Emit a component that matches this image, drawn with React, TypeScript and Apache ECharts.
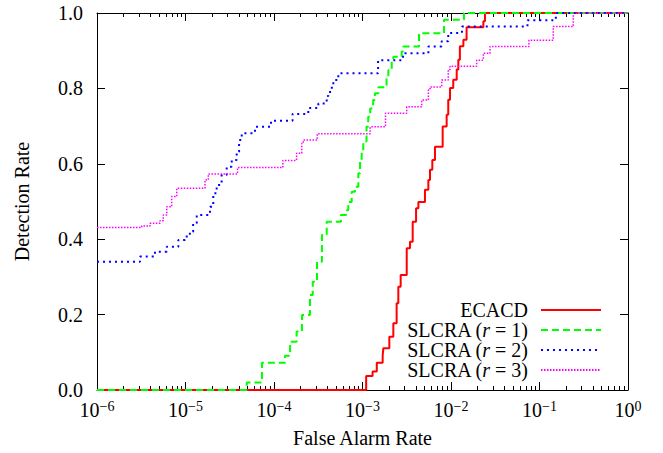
import React, { useEffect, useRef } from "react";
import * as echarts from "echarts";

const SERIES_NAMES = ["ECACD", "SLCRA (r = 1)", "SLCRA (r = 2)", "SLCRA (r = 3)"];

const ecacdFpr = [1e-6, 1.10e-3, 1.30e-3, 1.45e-3, 1.69e-3, 1.72e-3, 2.01e-3, 2.23e-3, 2.43e-3, 2.54e-3, 2.70e-3, 3.16e-3, 3.44e-3, 3.69e-3, 4.03e-3, 4.28e-3, 5.08e-3, 5.55e-3, 5.79e-3, 6.15e-3, 6.59e-3, 8.05e-3, 8.93e-3, 9.31e-3, 9.75e-3, 1.06e-2, 1.16e-2, 1.21e-2, 1.26e-2, 1.38e-2, 1.50e-2, 2.32e-2, 2.42e-2, 1];
const ecacdTpr = [0, 0.037, 0.049, 0.072, 0.091, 0.111, 0.141, 0.177, 0.230, 0.274, 0.305, 0.376, 0.393, 0.446, 0.482, 0.499, 0.531, 0.557, 0.584, 0.610, 0.645, 0.699, 0.730, 0.770, 0.801, 0.823, 0.850, 0.876, 0.912, 0.929, 0.962, 0.978, 1.0, 1.0];

const r1Fpr = [1e-6, 4.92e-5, 7.31e-5, 1.33e-4, 1.52e-4, 1.80e-4, 2.07e-4, 2.55e-4, 2.74e-4, 3.06e-4, 3.48e-4, 3.94e-4, 5.71e-4, 6.52e-4, 6.90e-4, 7.55e-4, 8.22e-4, 8.97e-4, 9.38e-4, 9.79e-4, 1.02e-3, 1.11e-3, 1.16e-3, 1.22e-3, 1.32e-3, 1.38e-3, 1.51e-3, 1.87e-3, 1.96e-3, 2.14e-3, 2.23e-3, 2.77e-3, 2.89e-3, 4.35e-3, 8.34e-3, 1.40e-2, 1];
const r1Tpr = [0, 0.020, 0.072, 0.091, 0.128, 0.155, 0.199, 0.252, 0.287, 0.340, 0.411, 0.446, 0.464, 0.477, 0.499, 0.526, 0.539, 0.575, 0.606, 0.632, 0.659, 0.698, 0.725, 0.747, 0.769, 0.787, 0.803, 0.831, 0.849, 0.871, 0.884, 0.898, 0.911, 0.946, 0.982, 1.0, 1.0];

const r2Fpr = [1e-6, 3.06e-6, 4.52e-6, 6.14e-6, 8.30e-6, 9.86e-6, 1.12e-5, 1.22e-5, 1.34e-5, 1.89e-5, 2.06e-5, 2.25e-5, 2.56e-5, 2.92e-5, 3.33e-5, 3.79e-5, 4.03e-5, 4.32e-5, 6.10e-5, 9.25e-5, 1.62e-4, 2.44e-4, 3.17e-4, 3.94e-4, 4.11e-4, 4.30e-4, 4.68e-4, 5.33e-4, 1.50e-3, 2.87e-3, 5.55e-3, 7.85e-3, 9.31e-3, 1.33e-2, 7.31e-2, 1.53e-1, 1];
const r2Tpr = [0.340, 0.354, 0.367, 0.380, 0.398, 0.407, 0.420, 0.442, 0.464, 0.486, 0.522, 0.544, 0.570, 0.592, 0.610, 0.632, 0.663, 0.681, 0.698, 0.714, 0.732, 0.748, 0.760, 0.780, 0.787, 0.802, 0.822, 0.840, 0.875, 0.893, 0.911, 0.925, 0.947, 0.964, 0.981, 1.0, 1.0];

const r3Fpr = [1e-6, 3.20e-6, 3.97e-6, 5.15e-6, 5.61e-6, 6.14e-6, 6.98e-6, 7.96e-6, 1.66e-5, 1.81e-5, 3.87e-5, 1.26e-4, 1.80e-4, 2.06e-4, 2.14e-4, 3.08e-4, 1.22e-3, 1.82e-3, 3.16e-3, 4.67e-3, 5.55e-3, 5.79e-3, 7.85e-3, 9.31e-3, 9.75e-3, 1.95e-2, 2.32e-2, 2.76e-2, 7.60e-2, 1.43e-1, 2.41e-1, 1];
const r3Tpr = [0.431, 0.435, 0.442, 0.449, 0.464, 0.486, 0.513, 0.535, 0.557, 0.573, 0.590, 0.609, 0.628, 0.654, 0.663, 0.680, 0.698, 0.734, 0.751, 0.769, 0.796, 0.804, 0.822, 0.850, 0.859, 0.875, 0.893, 0.911, 0.928, 0.964, 1.0, 1.0];

const X_MAJOR = [1e-6, 1e-5, 1e-4, 1e-3, 1e-2, 1e-1, 1];

const FONT = "Liberation Serif";

function minorValues(): number[] {
  const out: number[] = [];
  for (let e = -6; e < 0; e++) {
    for (let m = 2; m <= 9; m++) out.push(m * Math.pow(10, e));
  }
  return out;
}

function pairs(xs: number[], ys: number[]) {
  return xs.map((x, i) => [x, ys[i]]);
}

export default function App() {
  const ref = useRef<HTMLDivElement>(null);
  useEffect(() => {
    if (!ref.current) return;
    const chart = echarts.init(ref.current, undefined, { renderer: "svg" });
    const minors = minorValues();
    const baseX = {
      type: "log" as const,
      logBase: 10,
      min: 1e-6,
      max: 1,
      splitLine: { show: false },
    };
    const expLabel = (v: number) => {
      const e = Math.round(Math.log10(v));
      const s = e < 0 ? "\u2212" + -e : String(e);
      return "{b|10}{s|" + s + "}";
    };
    const option: any = {
      animation: false,
      backgroundColor: "#fff",
      textStyle: { fontFamily: FONT },
      grid: { left: 97, right: 35, top: 13, bottom: 63, containLabel: false },
      xAxis: [
        {
          ...baseX,
          position: "bottom",
          name: "False Alarm Rate",
          nameLocation: "middle",
          nameGap: 38,
          nameTextStyle: { fontFamily: FONT, fontSize: 20, color: "#000" },
          axisLine: { show: true, lineStyle: { color: "#000", width: 1 } },
          axisTick: { show: true, inside: true, length: 8, customValues: X_MAJOR, lineStyle: { color: "#000" } },
          axisLabel: {
            show: true,
            margin: 9,
            customValues: X_MAJOR,
            formatter: expLabel,
            rich: {
              b: { fontFamily: FONT, fontSize: 20, color: "#000", lineHeight: 22 },
              s: { fontFamily: FONT, fontSize: 14, color: "#000", lineHeight: 12, verticalAlign: "top" },
            },
          },
        },
        {
          ...baseX,
          position: "bottom",
          axisLine: { show: false },
          axisTick: { show: true, inside: true, length: 4, customValues: minors, lineStyle: { color: "#000" } },
          axisLabel: { show: false },
        },
        {
          ...baseX,
          position: "top",
          axisLine: { show: true, lineStyle: { color: "#000", width: 1 } },
          axisTick: { show: true, inside: true, length: 8, customValues: X_MAJOR, lineStyle: { color: "#000" } },
          axisLabel: { show: false },
        },
        {
          ...baseX,
          position: "top",
          axisLine: { show: false },
          axisTick: { show: true, inside: true, length: 4, customValues: minors, lineStyle: { color: "#000" } },
          axisLabel: { show: false },
        },
      ],
      yAxis: [
        {
          type: "value",
          position: "left",
          min: 0,
          max: 1,
          interval: 0.2,
          name: "Detection Rate",
          nameLocation: "middle",
          nameGap: 65,
          nameTextStyle: { fontFamily: FONT, fontSize: 20, color: "#000" },
          splitLine: { show: false },
          axisLine: { show: true, lineStyle: { color: "#000", width: 1 } },
          axisTick: { show: true, inside: true, length: 8, lineStyle: { color: "#000" } },
          axisLabel: {
            margin: 14,
            fontFamily: FONT,
            fontSize: 20,
            color: "#000",
            formatter: (v: number) => v.toFixed(1),
          },
        },
        {
          type: "value",
          position: "right",
          min: 0,
          max: 1,
          interval: 0.2,
          splitLine: { show: false },
          axisLine: { show: true, lineStyle: { color: "#000", width: 1 } },
          axisTick: { show: true, inside: true, length: 8, lineStyle: { color: "#000" } },
          axisLabel: { show: false },
        },
      ],
      legend: {
        orient: "vertical",
        right: 61,
        bottom: 73,
        align: "right",
        padding: 0,
        itemGap: 0,
        itemWidth: 60,
        itemHeight: 14,
        itemStyle: { opacity: 0 },
        data: SERIES_NAMES,
        formatter: (name: string) => {
          const m = name.match(/^(.*\()r( = \d\))$/);
          if (m) return "{t|" + m[1] + "}{i|r}{t|" + m[2] + "}{g|}";
          return "{t|" + name + "}{g|}";
        },
        textStyle: {
          fontFamily: FONT,
          rich: {
            t: { fontFamily: FONT, fontSize: 20, color: "#000", lineHeight: 22 },
            i: { fontFamily: FONT, fontSize: 20, fontStyle: "italic", color: "#000", lineHeight: 22 },
            g: { width: 8 },
          },
        },
      },
      series: [
        {
          name: SERIES_NAMES[0],
          type: "line",
          step: "end",
          symbol: "none",
          data: pairs(ecacdFpr, ecacdTpr),
          lineStyle: { color: "#ff0000", width: 2 },
          itemStyle: { color: "#ff0000" },
        },
        {
          name: SERIES_NAMES[1],
          type: "line",
          step: "end",
          symbol: "none",
          data: pairs(r1Fpr, r1Tpr),
          lineStyle: { color: "#00ff00", width: 2, type: [7, 4] },
          itemStyle: { color: "#00ff00" },
        },
        {
          name: SERIES_NAMES[2],
          type: "line",
          step: "end",
          symbol: "none",
          data: pairs(r2Fpr, r2Tpr),
          lineStyle: { color: "#0000ff", width: 2, type: [2, 4] },
          itemStyle: { color: "#0000ff" },
        },
        {
          name: SERIES_NAMES[3],
          type: "line",
          step: "end",
          symbol: "none",
          data: pairs(r3Fpr, r3Tpr),
          lineStyle: { color: "#ff00ff", width: 1.5, type: [1.5, 1.5] },
          itemStyle: { color: "#ff00ff" },
        },
      ],
    };
    chart.setOption(option);
    return () => chart.dispose();
  }, []);
  return (
    <div
      ref={ref}
      style={{ position: "fixed", left: 0, top: 0, width: 663, height: 453, background: "#fff" }}
    />
  );
}
